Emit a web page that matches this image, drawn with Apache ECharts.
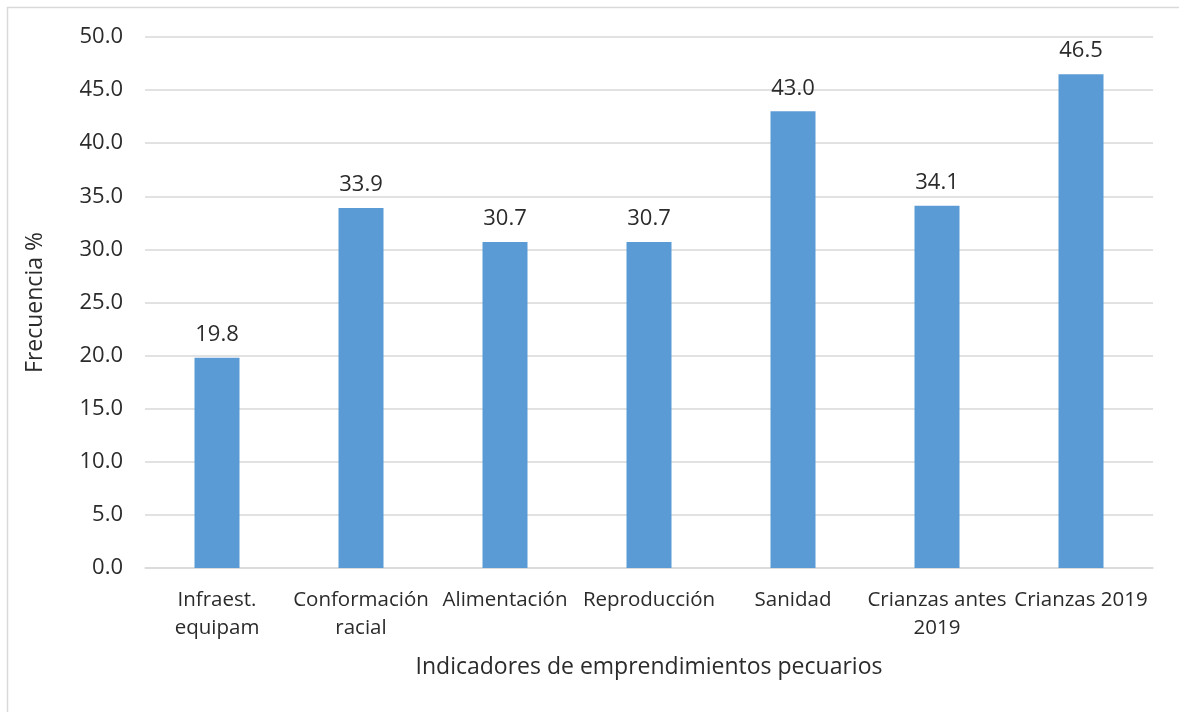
<!DOCTYPE html>
<html>
<head>
<meta charset="utf-8">
<script src="https://cdn.jsdelivr.net/npm/echarts@6/dist/echarts.min.js"></script>
<style>
  html, body { margin: 0; padding: 0; background: #fff; }
  #chart { width: 1179px; height: 712px; }
</style>
</head>
<body>
<div id="chart"></div>
<script>
  // categorías (con salto de línea como en el original)
  const categories = ['Infraest.\nequipam', 'Conformación\nracial', 'Alimentación', 'Reproducción', 'Sanidad', 'Crianzas antes\n2019', 'Crianzas 2019'];
  const frecuencia = [19.8, 33.9, 30.7, 30.7, 43.0, 34.1, 46.5];
  const yTicks = { min: 0, max: 50, step: 5 };

  const font = '"Open Sans", sans-serif';
  const txt = '#2b2b2b';

  let myChart = echarts.init(document.getElementById('chart'));

  let option = {
    backgroundColor: '#fff',
    animation: false,
    textStyle: { fontFamily: font },
    // marco del gráfico (solo se ven borde izquierdo y superior)
    graphic: [{
      type: 'rect',
      shape: { x: 7.5, y: 7.5, width: 1300, height: 800 },
      style: { fill: 'none', stroke: '#d9d9d9', lineWidth: 1.5 },
      silent: true
    }],
    grid: { left: 145, right: 26, top: 37, bottom: 144, containLabel: false },
    xAxis: {
      type: 'category',
      data: categories,
      name: 'Indicadores de emprendimientos pecuarios',
      nameLocation: 'middle',
      nameGap: 88,
      nameTextStyle: { fontSize: 23, color: txt, fontFamily: font },
      axisLine: { lineStyle: { color: '#d9d9d9', width: 1.5 } },
      axisTick: { show: false },
      axisLabel: { interval: 0, fontSize: 20.5, color: txt, lineHeight: 28, margin: 18, fontFamily: font }
    },
    yAxis: {
      type: 'value',
      min: yTicks.min,
      max: yTicks.max,
      interval: yTicks.step,
      name: 'Frecuencia %',
      nameLocation: 'middle',
      nameGap: 98,
      nameTextStyle: { fontSize: 23, color: txt, fontFamily: font },
      axisLine: { show: false },
      axisTick: { show: false },
      axisLabel: { fontSize: 22, color: txt, margin: 22, fontFamily: font, formatter: v => v.toFixed(1) },
      splitLine: { lineStyle: { color: '#d9d9d9', width: 1.5 } }
    },
    series: [{
      type: 'bar',
      data: frecuencia,
      barWidth: 45,
      itemStyle: { color: '#5b9bd5' },
      label: {
        show: true,
        position: 'top',
        distance: 12,
        fontSize: 22,
        color: txt,
        fontFamily: font,
        formatter: p => p.value.toFixed(1)
      }
    }]
  };

  myChart.setOption(option);
  window.addEventListener('resize', function () { myChart.resize() });
</script>
</body>
</html>
